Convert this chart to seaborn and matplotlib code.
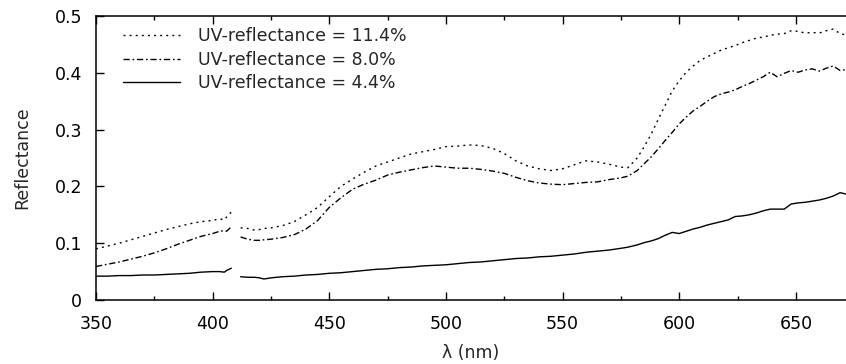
import matplotlib
matplotlib.use("Agg")
import matplotlib.pyplot as plt
from matplotlib.ticker import MultipleLocator, FuncFormatter
import numpy as np
import pandas as pd
import seaborn as sns

# wavelength grid (nm); NaN row at 410 marks the gap in the measurement
wavelength = [
    350, 355, 360, 365, 370, 375, 380, 385, 390, 395, 400, 403, 405, 406, 408,
    410, 412, 415, 418, 420, 422, 425, 430, 435, 440, 445, 450, 455, 460, 465,
    470, 475, 480, 485, 490, 495, 500, 505, 510, 515, 520, 525, 530, 535, 540,
    545, 550, 555, 560, 565, 570, 575, 578, 582, 585, 588, 591, 594, 597, 600,
    603, 606, 609, 612, 615, 618, 621, 624, 627, 630, 633, 636, 639, 642, 645,
    648, 651, 654, 657, 660, 663, 666, 669, 672,
]

refl_114 = [
    0.090, 0.095, 0.100, 0.106, 0.112, 0.118, 0.124, 0.129, 0.134, 0.138, 0.140, 0.143, 0.141, 0.146, 0.155,
    np.nan, 0.127, 0.126, 0.123, 0.124, 0.126, 0.127, 0.131, 0.138, 0.150, 0.163, 0.182, 0.200, 0.213, 0.225,
    0.236, 0.243, 0.250, 0.257, 0.261, 0.265, 0.270, 0.271, 0.273, 0.272, 0.267, 0.258, 0.245, 0.236, 0.231,
    0.228, 0.231, 0.238, 0.245, 0.243, 0.239, 0.234, 0.233, 0.250, 0.270, 0.292, 0.318, 0.343, 0.368, 0.386,
    0.401, 0.412, 0.422, 0.428, 0.434, 0.440, 0.444, 0.448, 0.453, 0.457, 0.461, 0.463, 0.466, 0.468, 0.469,
    0.474, 0.473, 0.470, 0.471, 0.470, 0.474, 0.477, 0.469, 0.466,
]

refl_80 = [
    0.059, 0.063, 0.067, 0.072, 0.077, 0.083, 0.090, 0.098, 0.105, 0.112, 0.117, 0.121, 0.122, 0.121, 0.129,
    np.nan, 0.111, 0.107, 0.105, 0.105, 0.106, 0.107, 0.110, 0.115, 0.125, 0.140, 0.163, 0.180, 0.195, 0.204,
    0.211, 0.220, 0.225, 0.229, 0.233, 0.236, 0.234, 0.232, 0.232, 0.230, 0.227, 0.223, 0.216, 0.210, 0.206,
    0.204, 0.203, 0.205, 0.207, 0.208, 0.212, 0.215, 0.218, 0.228, 0.240, 0.252, 0.266, 0.281, 0.295, 0.310,
    0.322, 0.333, 0.341, 0.350, 0.358, 0.363, 0.366, 0.370, 0.376, 0.381, 0.387, 0.393, 0.401, 0.393, 0.399,
    0.404, 0.401, 0.405, 0.407, 0.403, 0.408, 0.412, 0.404, 0.406,
]

refl_44 = [
    0.042, 0.042, 0.043, 0.043, 0.044, 0.044, 0.045, 0.046, 0.047, 0.049, 0.050, 0.050, 0.049, 0.052, 0.056,
    np.nan, 0.041, 0.040, 0.040, 0.039, 0.037, 0.039, 0.041, 0.042, 0.044, 0.045, 0.047, 0.048, 0.050, 0.052,
    0.054, 0.055, 0.057, 0.058, 0.060, 0.061, 0.062, 0.064, 0.066, 0.067, 0.069, 0.071, 0.073, 0.074, 0.076,
    0.077, 0.079, 0.081, 0.084, 0.086, 0.088, 0.091, 0.093, 0.097, 0.101, 0.104, 0.108, 0.114, 0.119, 0.117,
    0.121, 0.125, 0.128, 0.132, 0.135, 0.138, 0.141, 0.147, 0.148, 0.150, 0.153, 0.157, 0.160, 0.160, 0.160,
    0.169, 0.171, 0.172, 0.174, 0.176, 0.179, 0.183, 0.189, 0.186,
]

labels = ["UV-reflectance = 11.4%", "UV-reflectance = 8.0%", "UV-reflectance = 4.4%"]

sns.set_theme(style="ticks")
plt.rcParams["font.family"] = ["DejaVu Sans"]
plt.rcParams["font.size"] = 12.5

frames = []
for lab, vals in zip(labels, [refl_114, refl_80, refl_44]):
    d = pd.DataFrame({"wavelength": wavelength, "reflectance": vals})
    # split into two pieces at the missing point so the line is broken
    d["segment"] = np.where(d["wavelength"] < 410, "a", "b")
    d["sample"] = lab
    frames.append(d.dropna())
df = pd.concat(frames, ignore_index=True)

dashes = {
    labels[0]: (1.4, 3.0),
    labels[1]: (4.5, 2.0, 1.2, 2.0),
    labels[2]: "",
}

fig = plt.figure(figsize=(8.46, 3.64), dpi=100)
ax = fig.add_axes([96 / 846, 64 / 364, 750 / 846, 284 / 364])

sns.lineplot(
    data=df, x="wavelength", y="reflectance",
    style="sample", style_order=labels, dashes=dashes,
    units="segment", estimator=None,
    color="black", linewidth=1.0, ax=ax,
)

ax.set_xlim(350, 671.5)
ax.set_ylim(0, 0.5)
ax.xaxis.set_major_locator(MultipleLocator(50))
ax.xaxis.set_minor_locator(MultipleLocator(25))
ax.yaxis.set_major_locator(MultipleLocator(0.1))
ax.yaxis.set_major_formatter(FuncFormatter(lambda v, p: f"{v:g}"))
ax.tick_params(which="both", direction="in", top=True, right=False,
               color="black", width=1.0, labelsize=12.5, labelcolor="black")
ax.tick_params(which="major", length=6)
ax.tick_params(axis="x", which="major", pad=11)
ax.tick_params(axis="y", which="major", pad=10)
ax.tick_params(which="minor", length=3)
ax.spines["right"].set_visible(False)
for s in ["left", "bottom", "top"]:
    ax.spines[s].set_linewidth(1.1)
    ax.spines[s].set_color("black")

ax.set_xlabel("λ (nm)", fontsize=12.5, labelpad=8)
ax.set_ylabel("Reflectance", fontsize=12.5, labelpad=17)

handles, labs = ax.get_legend_handles_labels()
keep = [(h, l) for h, l in zip(handles, labs) if l in labels]
ax.legend([h for h, l in keep], [l for h, l in keep],
          loc="upper left", bbox_to_anchor=(0.036, 0.96),
          frameon=False, borderpad=0, borderaxespad=0,
          handlelength=3.3, handletextpad=1.0, labelspacing=0.32,
          fontsize=12.5)

fig.savefig("out.png", dpi=100)
